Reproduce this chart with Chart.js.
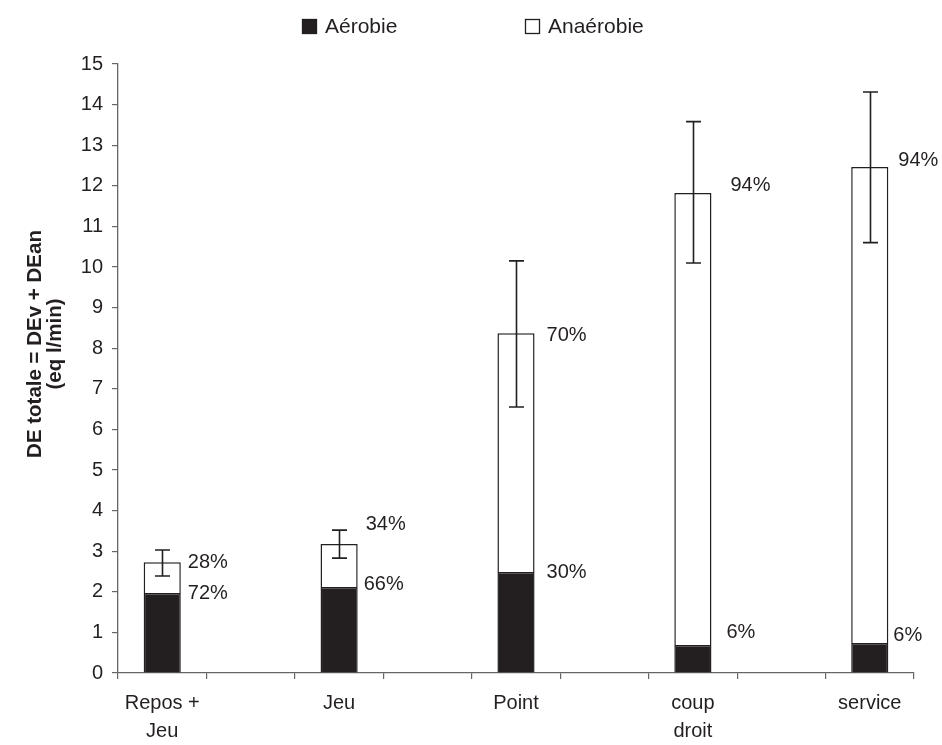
<!DOCTYPE html>
<html><head><meta charset="utf-8">
<script src="https://cdn.jsdelivr.net/npm/chart.js@4"></script>
<style>html,body{margin:0;padding:0;background:#fff}#wrap{width:942px;height:745px}</style>
</head><body><div id="wrap"><canvas id="c" width="942" height="745"></canvas></div>
<script>
const categories = [['Repos +', 'Jeu'], 'Jeu', 'Point', ['coup', 'droit'], 'service'];
const seriesNames = ['Aérobie', 'Anaérobie'];
const aerobicValues = [1.97, 2.12, 2.49, 0.69, 0.74];
const totalValues = [2.73, 3.18, 8.37, 11.82, 12.46];
const errorLow = [2.39, 2.83, 6.55, 10.10, 10.60];
const errorHigh = [3.03, 3.52, 10.15, 13.58, 14.31];
const aerobicPercent = ['72%', '66%', '30%', '6%', '6%'];
const anaerobicPercent = ['28%', '34%', '70%', '94%', '94%'];
const yTickLabels = ['0','1','2','3','4','5','6','7','8','9','10','11','12','13','14','15'];
const yTitleLines = ['DE totale = DEv + DEan', '(eq l/min)'];

const INK = '#231f20';
const AXIS = '#666666';
const FONT = 'Liberation Sans';

// expand with empty gap categories between real ones
const labels = [], aer = [], ana = [];
categories.forEach((c, i) => {
  labels.push(c);
  aer.push(aerobicValues[i]);
  ana.push(+(totalValues[i] - aerobicValues[i]).toFixed(2));
  if (i < categories.length - 1) { labels.push(''); aer.push(null); ana.push(null); }
});

const errorBars = {
  id: 'errorBars',
  afterDatasetsDraw(chart) {
    const ctx = chart.ctx, y = chart.scales.y, meta = chart.getDatasetMeta(1);
    ctx.save();
    ctx.strokeStyle = INK; ctx.lineWidth = 1.6;
    errorLow.forEach((lo, i) => {
      const bar = meta.data[2 * i];
      const x = Math.round(bar.x) + 0.5;
      const y1 = y.getPixelForValue(lo), y2 = y.getPixelForValue(errorHigh[i]);
      ctx.beginPath();
      ctx.moveTo(x, y1); ctx.lineTo(x, y2);
      ctx.moveTo(x - 7.5, y1); ctx.lineTo(x + 7.5, y1);
      ctx.moveTo(x - 7.5, y2); ctx.lineTo(x + 7.5, y2);
      ctx.stroke();
    });
    ctx.restore();
  }
};

const pctLabels = {
  id: 'pctLabels',
  afterDatasetsDraw(chart) {
    const ctx = chart.ctx, y = chart.scales.y, meta = chart.getDatasetMeta(1);
    const nudgeTop = [[7, 0], [8, -19], [12, 2], [19, -8], [10, -7]];
    const nudgeBot = [[7, 0], [6, -2], [12, 1], [15, -13], [5, -7]];
    ctx.save();
    ctx.fillStyle = INK; ctx.font = '20px "' + FONT + '"';
    ctx.textAlign = 'left'; ctx.textBaseline = 'middle';
    categories.forEach((c, i) => {
      const bar = meta.data[2 * i];
      const right = bar.x + bar.width / 2;
      ctx.fillText(anaerobicPercent[i], right + nudgeTop[i][0], y.getPixelForValue(totalValues[i]) + nudgeTop[i][1]);
      ctx.fillText(aerobicPercent[i], right + nudgeBot[i][0], y.getPixelForValue(aerobicValues[i]) + nudgeBot[i][1]);
    });
    ctx.restore();
  }
};

const yTitlePlugin = {
  id: 'yTitle',
  afterDraw(chart) {
    const ctx = chart.ctx;
    ctx.save();
    ctx.fillStyle = INK;
    ctx.font = 'bold 20.5px "' + FONT + '"';
    ctx.textAlign = 'center'; ctx.textBaseline = 'middle';
    const xs = [35, 55];
    yTitleLines.forEach((t, i) => {
      ctx.save();
      ctx.translate(xs[i], 344);
      ctx.rotate(-Math.PI / 2);
      ctx.fillText(t, 0, 0);
      ctx.restore();
    });
    ctx.restore();
  }
};

const legendPlugin = {
  id: 'customLegend',
  afterDraw(chart) {
    const ctx = chart.ctx;
    const ds = chart.data.datasets;
    const items = [{x: 302, ds: ds[0]}, {x: 525, ds: ds[1]}];
    ctx.save();
    ctx.font = '21px "' + FONT + '"';
    ctx.textBaseline = 'middle'; ctx.textAlign = 'left';
    items.forEach(it => {
      ctx.fillStyle = it.ds.backgroundColor;
      ctx.fillRect(it.x, 19, 15, 15);
      ctx.strokeStyle = INK; ctx.lineWidth = 1.3;
      ctx.strokeRect(it.x + 0.5, 19.5, 14, 14);
      ctx.fillStyle = INK;
      ctx.fillText(it.ds.label, it.x + 23, 27);
    });
    ctx.restore();
  }
};

new Chart(document.getElementById('c'), {
  type: 'bar',
  data: {
    labels: labels,
    datasets: [
      {label: seriesNames[0], data: aer, backgroundColor: INK, borderColor: INK, borderWidth: 1.5, barPercentage: 0.42, categoryPercentage: 1},
      {label: seriesNames[1], data: ana, backgroundColor: '#ffffff', borderColor: INK, borderWidth: 1.5, barPercentage: 0.42, categoryPercentage: 1}
    ]
  },
  options: {
    responsive: false, animation: false, devicePixelRatio: 1,
    layout: {padding: {top: 64, right: 28, left: 0, bottom: 0}},
    plugins: {legend: {display: false}, tooltip: {enabled: false}},
    scales: {
      x: {
        stacked: true,
        grid: {offset: true, drawOnChartArea: false, tickLength: 6, color: AXIS, lineWidth: 1.2},
        border: {color: AXIS, width: 1.3},
        ticks: {color: INK, font: {family: FONT, size: 20, lineHeight: 1.4}, padding: 10, maxRotation: 0, autoSkip: false},
        afterFit: s => { s.height = 72; }
      },
      y: {
        stacked: true, min: 0, max: 15,
        grid: {drawOnChartArea: false, tickLength: 6, color: AXIS, lineWidth: 1.2},
        border: {color: AXIS, width: 1.3},
        ticks: {stepSize: 1, color: INK, font: {family: FONT, size: 20}, padding: 9,
          callback: (v) => yTickLabels[v]},
        title: {display: false},
        afterFit: s => { s.width = 118; }
      }
    }
  },
  plugins: [errorBars, pctLabels, yTitlePlugin, legendPlugin]
});
</script></body></html>
